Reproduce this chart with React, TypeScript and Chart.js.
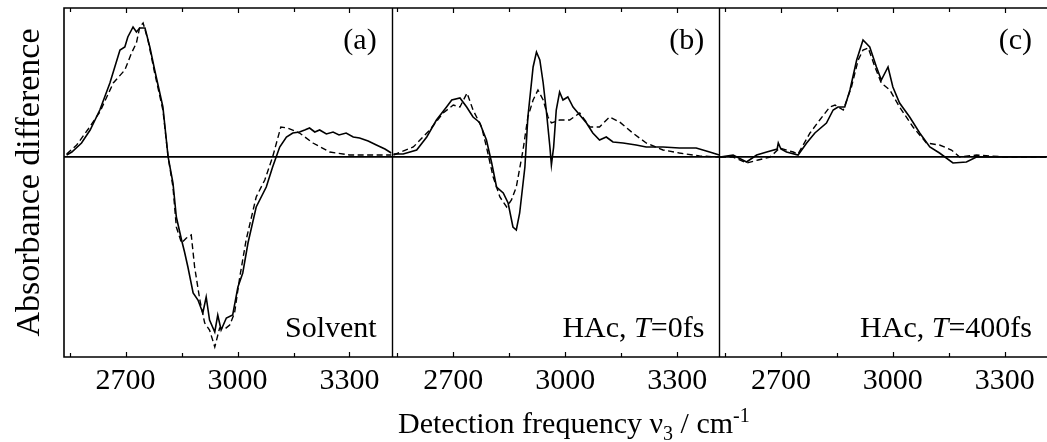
import { useEffect, useRef } from 'react';
import { Chart, registerables } from 'chart.js';

Chart.register(...registerables);

// ---------- data ----------
const FREQ_MIN = 2535;
const FREQ_MAX = 3413;
const TICK_VALUES = [2550, 2700, 2850, 3000, 3150, 3300];
const LABELED_TICKS = [2700, 3000, 3300];
const Y_MIN = -2.0;
const Y_MAX = 1.49;

const PANEL_TAGS = ['(a)', '(b)', '(c)'];

// (a) Solvent
const solventSolidX = [2542, 2556, 2582, 2605, 2631, 2658, 2685, 2698, 2706, 2720, 2729, 2738, 2752, 2765, 2778, 2800, 2814, 2827, 2836, 2850, 2858, 2867, 2881, 2894, 2907, 2916, 2925, 2939, 2947, 2956, 2970, 2987, 3001, 3014, 3028, 3050, 3077, 3094, 3113, 3131, 3148, 3166, 3180, 3193, 3207, 3220, 3238, 3256, 3272, 3291, 3310, 3327, 3350, 3372, 3395, 3412];
const solventSolidY = [0.02, 0.05, 0.14, 0.27, 0.47, 0.74, 1.07, 1.10, 1.20, 1.30, 1.25, 1.29, 1.29, 1.10, 0.87, 0.50, 0.0, -0.26, -0.60, -0.83, -0.95, -1.10, -1.36, -1.43, -1.56, -1.40, -1.63, -1.75, -1.58, -1.73, -1.61, -1.58, -1.30, -1.16, -0.86, -0.50, -0.30, -0.10, 0.10, 0.20, 0.24, 0.25, 0.27, 0.29, 0.25, 0.27, 0.23, 0.25, 0.22, 0.24, 0.20, 0.19, 0.16, 0.12, 0.08, 0.04];
const solventDashX = [2542, 2569, 2600, 2631, 2667, 2698, 2716, 2729, 2738, 2747, 2760, 2778, 2800, 2814, 2827, 2836, 2850, 2863, 2876, 2885, 2899, 2912, 2925, 2939, 2952, 2966, 2979, 2992, 3006, 3023, 3050, 3073, 3094, 3116, 3134, 3166, 3202, 3247, 3300, 3360, 3412];
const solventDashY = [0.03, 0.12, 0.28, 0.45, 0.74, 0.87, 1.04, 1.14, 1.30, 1.34, 1.17, 0.84, 0.47, 0.0, -0.30, -0.70, -0.86, -0.81, -0.78, -1.10, -1.43, -1.66, -1.73, -1.90, -1.71, -1.72, -1.68, -1.56, -1.20, -0.83, -0.40, -0.23, 0.0, 0.30, 0.29, 0.24, 0.14, 0.05, 0.02, 0.02, 0.02];

// (b) HAc, T = 0 fs
const hac0SolidX = [2540, 2566, 2602, 2629, 2655, 2682, 2696, 2718, 2736, 2753, 2766, 2771, 2789, 2803, 2816, 2834, 2847, 2860, 2869, 2878, 2892, 2900, 2914, 2923, 2932, 2941, 2950, 2959, 2963, 2969, 2976, 2985, 2994, 3007, 3021, 3039, 3057, 3074, 3092, 3110, 3128, 3155, 3190, 3217, 3262, 3306, 3351, 3387, 3413];
const hac0SolidY = [0.03, 0.03, 0.07, 0.20, 0.37, 0.50, 0.57, 0.59, 0.50, 0.40, 0.36, 0.34, 0.17, -0.06, -0.30, -0.36, -0.46, -0.70, -0.73, -0.56, -0.10, 0.40, 0.90, 1.05, 0.97, 0.74, 0.44, 0.10, -0.08, 0.10, 0.47, 0.65, 0.57, 0.60, 0.50, 0.42, 0.34, 0.24, 0.17, 0.20, 0.15, 0.14, 0.12, 0.10, 0.10, 0.09, 0.09, 0.05, 0.02];
const hac0DashX = [2540, 2593, 2637, 2673, 2700, 2718, 2737, 2753, 2776, 2789, 2807, 2825, 2843, 2856, 2869, 2887, 2900, 2914, 2927, 2941, 2954, 2963, 2985, 3012, 3039, 3066, 3092, 3119, 3146, 3181, 3217, 3262, 3306, 3360, 3413];
const hac0DashY = [0.02, 0.10, 0.27, 0.44, 0.52, 0.50, 0.64, 0.47, 0.30, 0.10, -0.20, -0.40, -0.50, -0.43, -0.30, 0.07, 0.40, 0.57, 0.67, 0.57, 0.40, 0.34, 0.37, 0.37, 0.44, 0.30, 0.30, 0.40, 0.35, 0.24, 0.14, 0.07, 0.04, 0.01, 0.0];

// (c) HAc, T = 400 fs
const hac400SolidX = [2537, 2572, 2608, 2635, 2662, 2690, 2693, 2700, 2715, 2746, 2769, 2791, 2822, 2840, 2853, 2871, 2885, 2903, 2920, 2938, 2956, 2969, 2987, 3000, 3018, 3045, 3072, 3099, 3125, 3161, 3197, 3224, 3300, 3411];
const hac400SolidY = [0.0, 0.02, -0.05, 0.02, 0.05, 0.08, 0.14, 0.08, 0.05, 0.02, 0.14, 0.24, 0.34, 0.47, 0.50, 0.50, 0.67, 0.97, 1.17, 1.10, 0.90, 0.77, 0.90, 0.70, 0.54, 0.40, 0.24, 0.10, 0.04, -0.06, -0.05, 0.0, 0.0, 0.0];
const hac400DashX = [2537, 2572, 2608, 2639, 2671, 2697, 2733, 2746, 2778, 2804, 2831, 2845, 2867, 2889, 2907, 2920, 2934, 2952, 2969, 2992, 3018, 3054, 3090, 3125, 3157, 3179, 3224, 3300, 3411];
const hac400DashY = [0.0, 0.0, -0.06, -0.03, 0.0, 0.09, 0.05, 0.03, 0.24, 0.37, 0.50, 0.52, 0.47, 0.70, 0.97, 1.07, 1.09, 0.90, 0.74, 0.67, 0.50, 0.30, 0.14, 0.12, 0.07, 0.0, 0.02, 0.0, 0.0];

const SERIF = "'Liberation Serif', 'DejaVu Serif', serif";

type Part = { t: string; italic?: boolean };
const PANEL_NOTES: Part[][] = [
  [{ t: 'Solvent' }],
  [{ t: 'HAc, ' }, { t: 'T', italic: true }, { t: '=0fs' }],
  [{ t: 'HAc, ' }, { t: 'T', italic: true }, { t: '=400fs' }],
];

const zip = (xs: number[], ys: number[]) => xs.map((x, i) => ({ x, y: ys[i] }));

const framePlugin = {
  id: 'frame',
  afterDraw(chart: any) {
    const { ctx, chartArea } = chart;
    const axes = ['xa', 'xb', 'xc'].map((id) => chart.scales[id]);
    ctx.save();
    ctx.strokeStyle = '#000';
    ctx.lineWidth = 1.6;
    ctx.beginPath();
    ctx.moveTo(chartArea.right + 2, chartArea.top);
    ctx.lineTo(chartArea.left, chartArea.top);
    ctx.lineTo(chartArea.left, chartArea.bottom);
    ctx.lineTo(chartArea.right + 2, chartArea.bottom);
    ctx.stroke();
    // panel dividers
    ctx.lineWidth = 1.4;
    for (let i = 1; i < axes.length; i++) {
      const x = Math.round(axes[i].left) + 0.5;
      ctx.beginPath();
      ctx.moveTo(x, chartArea.top);
      ctx.lineTo(x, chartArea.bottom);
      ctx.stroke();
    }
    // inward tick marks
    ctx.lineWidth = 1.2;
    axes.forEach((s) => {
      TICK_VALUES.forEach((v) => {
        const x = Math.round(s.getPixelForValue(v)) + 0.5;
        const len = LABELED_TICKS.includes(v) ? 5 : 4;
        ctx.beginPath();
        ctx.moveTo(x, chartArea.bottom);
        ctx.lineTo(x, chartArea.bottom - len);
        ctx.moveTo(x, chartArea.top);
        ctx.lineTo(x, chartArea.top + len);
        ctx.stroke();
      });
    });
    // panel annotations
    ctx.fillStyle = '#000';
    ctx.textBaseline = 'alphabetic';
    axes.forEach((s, i) => {
      const right = s.right - 15;
      ctx.font = `30px ${SERIF}`;
      ctx.textAlign = 'right';
      ctx.fillText(PANEL_TAGS[i], right, 49);
      ctx.textAlign = 'left';
      const parts = PANEL_NOTES[i];
      const widths = parts.map((p) => {
        ctx.font = `${p.italic ? 'italic ' : ''}30px ${SERIF}`;
        return ctx.measureText(p.t).width;
      });
      let x = right - widths.reduce((a, b) => a + b, 0);
      parts.forEach((p, k) => {
        ctx.font = `${p.italic ? 'italic ' : ''}30px ${SERIF}`;
        ctx.fillText(p.t, x, 337);
        x += widths[k];
      });
    });
    // x axis title with sub/superscripts
    const pieces: { t: string; size: number; dy: number }[] = [
      { t: 'Detection frequency \u03bd', size: 30, dy: 0 },
      { t: '3', size: 20, dy: 7 },
      { t: ' / cm', size: 30, dy: 0 },
      { t: '-1', size: 20, dy: -11 },
    ];
    let tx = 398;
    const base = 433;
    ctx.textAlign = 'left';
    pieces.forEach((p) => {
      ctx.font = `${p.size}px ${SERIF}`;
      ctx.fillText(p.t, tx, base + p.dy);
      tx += ctx.measureText(p.t).width;
    });
    ctx.restore();
  },
};

function makeX(id: string) {
  return {
    type: 'linear' as const,
    position: 'bottom' as const,
    stack: 'panels',
    stackWeight: 1,
    min: FREQ_MIN,
    max: FREQ_MAX,
    grid: { display: false, drawTicks: false },
    border: { display: false },
    afterBuildTicks: (s: any) => {
      s.ticks = TICK_VALUES.map((v) => ({ value: v }));
    },
    afterFit: (s: any) => {
      s.height = 85;
      s.paddingLeft = 0;
      s.paddingRight = 0;
    },
    ticks: {
      autoSkip: false,
      maxRotation: 0,
      padding: 6,
      color: '#000',
      font: { family: SERIF, size: 30 },
      callback: (v: any) => (LABELED_TICKS.includes(Number(v)) ? String(v) : ''),
    },
  };
}

export default function App() {
  const ref = useRef<HTMLCanvasElement | null>(null);
  useEffect(() => {
    if (!ref.current) return;
    const solid = { borderColor: '#000', borderWidth: 1.6, pointRadius: 0, tension: 0, fill: false, yAxisID: 'y' };
    const dashed = { ...solid, borderDash: [6, 3.5], borderWidth: 1.4 };
    const chart = new Chart(ref.current, {
      type: 'line',
      data: {
        datasets: [
          { ...solid, label: 'Solvent solid', xAxisID: 'xa', data: zip(solventSolidX, solventSolidY) },
          { ...dashed, label: 'Solvent dashed', xAxisID: 'xa', data: zip(solventDashX, solventDashY) },
          { ...solid, label: 'HAc 0fs solid', xAxisID: 'xb', data: zip(hac0SolidX, hac0SolidY) },
          { ...dashed, label: 'HAc 0fs dashed', xAxisID: 'xb', data: zip(hac0DashX, hac0DashY) },
          { ...solid, label: 'HAc 400fs solid', xAxisID: 'xc', data: zip(hac400SolidX, hac400SolidY) },
          { ...dashed, label: 'HAc 400fs dashed', xAxisID: 'xc', data: zip(hac400DashX, hac400DashY) },
        ] as any,
      },
      options: {
        animation: false,
        responsive: false,
        devicePixelRatio: 1,
        layout: { padding: { top: 8, right: 0, left: 0, bottom: 0 } },
        plugins: { legend: { display: false }, tooltip: { enabled: false }, title: { display: false } },
        scales: {
          xa: makeX('xa'),
          xb: makeX('xb'),
          xc: makeX('xc'),
          y: {
            type: 'linear',
            position: 'left',
            min: Y_MIN,
            max: Y_MAX,
            ticks: { display: false, stepSize: 0.5 },
            border: { display: false },
            grid: {
              drawTicks: false,
              color: (c: any) => (c.tick && c.tick.value === 0 ? '#000' : 'rgba(0,0,0,0)'),
              lineWidth: (c: any) => (c.tick && c.tick.value === 0 ? 1.8 : 0),
            },
            title: {
              display: true,
              text: 'Absorbance difference',
              color: '#000',
              font: { family: SERIF, size: 34 },
              padding: { top: 10, bottom: 0 },
            },
            afterFit: (s: any) => {
              s.width = 64;
              s.paddingTop = 0;
              s.paddingBottom = 0;
            },
          },
        },
      } as any,
      plugins: [framePlugin],
    });
    return () => chart.destroy();
  }, []);
  return (
    <canvas
      ref={ref}
      width={1047}
      height={442}
      style={{ position: 'fixed', left: 0, top: 0, width: 1047, height: 442, background: '#fff' }}
    />
  );
}
